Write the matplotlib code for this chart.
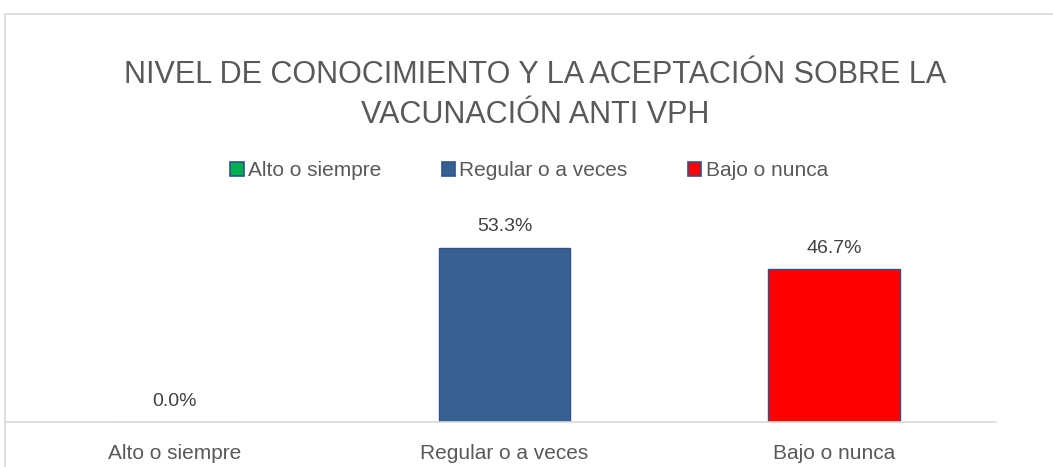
import matplotlib
matplotlib.use("Agg")
import matplotlib.pyplot as plt
from matplotlib.patches import Patch, Rectangle

categories = ["Alto o siempre", "Regular o a veces", "Bajo o nunca"]
values = [0.0, 53.3, 46.7]
colors = ["#00b050", "#376092", "#ff0000"]
edge = "#2f528f"
title = "NIVEL DE CONOCIMIENTO Y LA ACEPTACIÓN SOBRE LA\nVACUNACIÓN ANTI VPH"

plt.rcParams['font.family'] = ['Liberation Sans', 'DejaVu Sans']
W, H = 1053, 467
fig = plt.figure(figsize=(W/100, H/100), dpi=100)

# chart frame
fig.patches.append(Rectangle((5/W, -0.1), 1.2, (H-14)/H + 0.1, transform=fig.transFigure,
                             fill=False, edgecolor="#d9d9d9", linewidth=1.2))

ax = fig.add_axes([10/W, 45/H, 989/W, 196/H])
x = list(range(len(categories)))
bars = ax.bar(x, values, width=0.4, color=colors, edgecolor=edge, linewidth=1)
ax.set_xlim(-0.5, 2.5)
ax.set_ylim(0, 60)
for s in ["top", "right", "left"]:
    ax.spines[s].set_visible(False)
ax.spines["bottom"].set_color("#d9d9d9")
ax.spines["bottom"].set_linewidth(1.2)
ax.spines["bottom"].set_bounds(-0.515, 2.49)
ax.set_yticks([])
ax.set_xticks(x)
ax.set_xticklabels(categories, fontsize=15, color="#595959")
ax.tick_params(axis="x", length=0, pad=16)
for xi, v in zip(x, values):
    ax.annotate(f"{v:.1f}%", (xi, v), xytext=(0, 9), textcoords="offset points",
                ha="center", va="bottom", fontsize=14, color="#404040")

fig.text(535/W, 1 - 95/H, title, ha="center", va="center", fontsize=22,
         color="#595959", linespacing=1.4)

handles = [Patch(facecolor=c, edgecolor=edge, linewidth=1.2) for c in colors]
fig.legend(handles, categories, loc="center", bbox_to_anchor=(529/W, 1 - 171/H),
           ncol=3, frameon=False, fontsize=15, handlelength=0.65, handleheight=0.65,
           handletextpad=0.2, columnspacing=2.9, labelcolor="#595959")

fig.savefig("out.png", dpi=100)
